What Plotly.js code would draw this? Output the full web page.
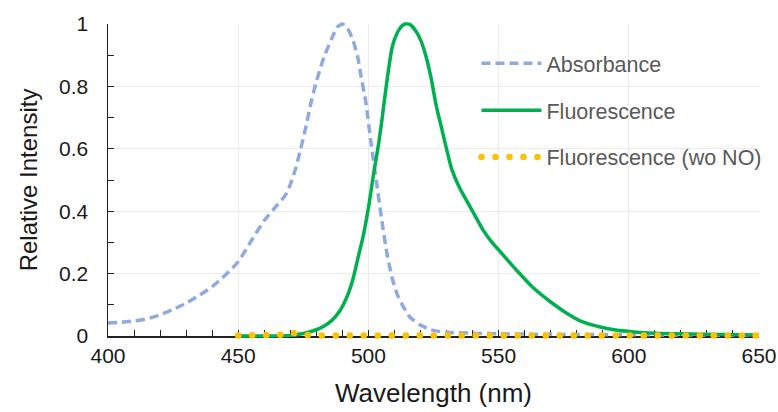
<!DOCTYPE html>
<html><head><meta charset="utf-8">
<script src="https://cdn.plot.ly/plotly-3.0.1.min.js"></script>
<style>
html,body{margin:0;padding:0;background:#fff;}
</style>
</head><body>
<div id="chart" style="width:778px;height:412px;"></div>
<script>
const absX = [400,405,410,415,420,425,430,435,440,445,450,455,460,465,468,470,472,474,476,478,480,483,486,488,490,492,494,496,497,499,501,503,505,507,509,511,513,516,520,524,530,540,550,575,600,625,650];
const absY = [0.042,0.044,0.048,0.055,0.068,0.085,0.105,0.13,0.158,0.195,0.238,0.305,0.37,0.42,0.45,0.485,0.535,0.60,0.67,0.75,0.815,0.895,0.955,0.99,1.0,0.985,0.95,0.89,0.84,0.75,0.62,0.50,0.38,0.27,0.19,0.135,0.10,0.06,0.035,0.02,0.012,0.009,0.007,0.005,0.004,0.003,0.002];

const fluX = [450,460,470,475,480,483,486,489,492,494,496,498,500,502,504,505,507,509,510,512,514,516,518,520,522,524,526,528,530,532,535,538,541,544,547,550,557,563,570,576,582,589,595,602,610,620,635,650];
const fluY = [0.0,0.0,0.002,0.008,0.02,0.032,0.05,0.08,0.13,0.18,0.25,0.32,0.41,0.52,0.62,0.68,0.81,0.92,0.95,0.985,1.0,0.998,0.98,0.95,0.90,0.83,0.74,0.67,0.60,0.535,0.475,0.43,0.385,0.34,0.305,0.276,0.21,0.157,0.109,0.074,0.046,0.029,0.019,0.013,0.009,0.007,0.005,0.003];

const woX = [450,460,468,471,474,480,500,520,540,560,580,600,620,640,650];
const woY = [0.002,0.002,0.004,0.01,0.004,0.002,0.002,0.002,0.002,0.002,0.002,0.002,0.002,0.002,0.002];

const font = 'Liberation Sans, Arial, sans-serif';
const traces = [
  {x: absX, y: absY, name: 'Absorbance', mode: 'lines', legendgroup: 'a',
   line: {color: '#8FAADC', width: 3.5, dash: '9px,5px', shape: 'spline', smoothing: 0.6}},
  {x: fluX, y: fluY, name: 'Fluorescence', mode: 'lines', legendgroup: 'b',
   line: {color: '#00B050', width: 3.5, shape: 'spline', smoothing: 0.6}},
  {x: woX, y: woY, name: 'Fluorescence (wo NO)', mode: 'lines', legendgroup: 'c',
   line: {color: '#FFC000', width: 6.5, dash: '0.1px,13.9px'}}
];
const layout = {
  width: 778, height: 412,
  margin: {l: 108, r: 19, t: 24, b: 76, autoexpand: false},
  paper_bgcolor: '#fff', plot_bgcolor: '#fff',
  font: {family: font, color: '#404040'},
  showlegend: true,
  legend: {x: 0.566, y: 0.94, xanchor: 'left', yanchor: 'top', bgcolor: 'rgba(0,0,0,0)', itemwidth: 60,
           font: {size: 21.5, color: '#595959', family: font}, tracegroupgap: 16, traceorder: 'grouped'},
  xaxis: {range: [400, 650], dtick: 50, tick0: 400, showgrid: true, gridcolor: '#EBEBEB', gridwidth: 1,
          layer: 'below traces', automargin: false,
          showline: true, linecolor: '#222', linewidth: 1.5, ticks: 'inside', ticklen: 6, tickcolor: '#222',
          minor: {dtick: 10, ticks: 'inside', ticklen: 6, tickcolor: '#222', showgrid: false},
          zeroline: false, tickfont: {size: 21, color: '#1a1a1a', family: font},
          title: {text: 'Wavelength (nm)', font: {size: 26, color: '#1a1a1a', family: font}, standoff: 18}},
  yaxis: {range: [0, 1], dtick: 0.2, showgrid: true, gridcolor: '#EBEBEB', gridwidth: 1,
          layer: 'below traces', automargin: false,
          showline: true, linecolor: '#222', linewidth: 1.5, ticks: 'inside', ticklen: 6, tickcolor: '#222',
          minor: {dtick: 0.1, ticks: 'inside', ticklen: 6, tickcolor: '#222', showgrid: false},
          zeroline: false, tickfont: {size: 21, color: '#1a1a1a', family: font}, ticklabelstandoff: 14,
          title: {text: 'Relative Intensity', font: {size: 24, color: '#1a1a1a', family: font}, standoff: 14}}
};
Plotly.newPlot('chart', traces, layout, {staticPlot: true}).then(() => {
  const fix = (sel) => document.querySelectorAll(sel).forEach((t, i) => {
    if (i === 2) t.querySelectorAll('path.js-line').forEach(p => {
      p.setAttribute('stroke-linecap', 'round');
      p.style.strokeLinecap = 'round';
    });
  });
  fix('.scatterlayer .trace');
  fix('.legend .traces');
  document.querySelectorAll('.cartesianlayer [clip-path], .cartesianlayer .plot').forEach(g => {
    if (!g.closest('.gridlayer')) g.removeAttribute('clip-path');
  });
});
</script>
</body></html>
